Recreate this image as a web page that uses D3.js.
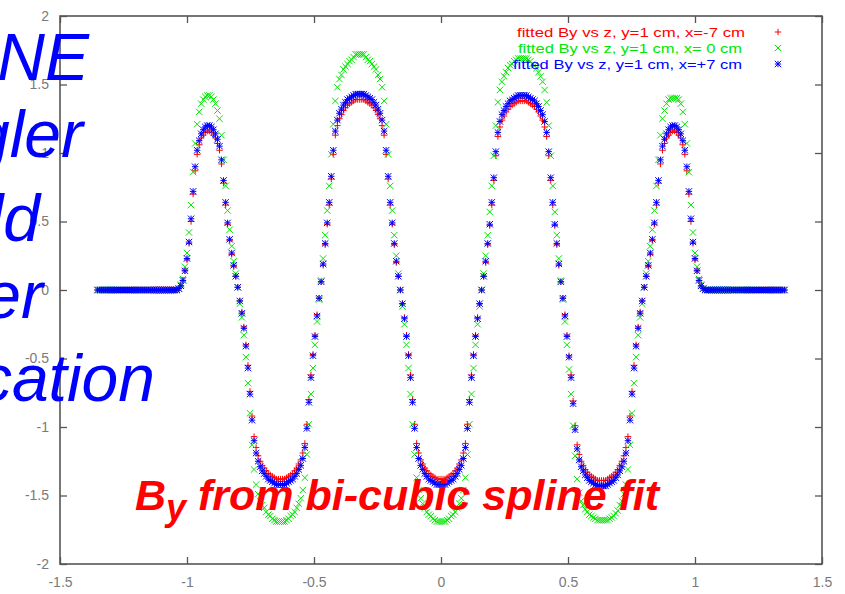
<!DOCTYPE html>
<html>
<head>
<meta charset="utf-8">
<script src="https://cdn.jsdelivr.net/npm/d3@7"></script>
<style>
  html, body { margin: 0; padding: 0; background: #fff; }
  svg { display: block; }
  text { font-family: "Liberation Sans", Arial, Helvetica, sans-serif; }
</style>
</head>
<body>
<svg id="chart" width="845" height="594"></svg>
<script>
// Longitudinal sample positions z (m)
const zPos = [
  -1.352,-1.344,-1.336,-1.328,-1.320,-1.312,-1.304,-1.296,-1.288,-1.280,
  -1.272,-1.264,-1.256,-1.248,-1.240,-1.232,-1.224,-1.216,-1.208,-1.200,
  -1.192,-1.184,-1.176,-1.168,-1.160,-1.152,-1.144,-1.136,-1.128,-1.120,
  -1.112,-1.104,-1.096,-1.088,-1.080,-1.072,-1.064,-1.056,-1.048,-1.040,
  -1.032,-1.024,-1.016,-1.008,-1.000,-0.992,-0.984,-0.976,-0.968,-0.960,
  -0.952,-0.944,-0.936,-0.928,-0.920,-0.912,-0.904,-0.896,-0.888,-0.880,
  -0.872,-0.864,-0.856,-0.848,-0.840,-0.832,-0.824,-0.816,-0.808,-0.800,
  -0.792,-0.784,-0.776,-0.768,-0.760,-0.752,-0.744,-0.736,-0.728,-0.720,
  -0.712,-0.704,-0.696,-0.688,-0.680,-0.672,-0.664,-0.656,-0.648,-0.640,
  -0.632,-0.624,-0.616,-0.608,-0.600,-0.592,-0.584,-0.576,-0.568,-0.560,
  -0.552,-0.544,-0.536,-0.528,-0.520,-0.512,-0.504,-0.496,-0.488,-0.480,
  -0.472,-0.464,-0.456,-0.448,-0.440,-0.432,-0.424,-0.416,-0.408,-0.400,
  -0.392,-0.384,-0.376,-0.368,-0.360,-0.352,-0.344,-0.336,-0.328,-0.320,
  -0.312,-0.304,-0.296,-0.288,-0.280,-0.272,-0.264,-0.256,-0.248,-0.240,
  -0.232,-0.224,-0.216,-0.208,-0.200,-0.192,-0.184,-0.176,-0.168,-0.160,
  -0.152,-0.144,-0.136,-0.128,-0.120,-0.112,-0.104,-0.096,-0.088,-0.080,
  -0.072,-0.064,-0.056,-0.048,-0.040,-0.032,-0.024,-0.016,-0.008,0.000,
  0.008,0.016,0.024,0.032,0.040,0.048,0.056,0.064,0.072,0.080,
  0.088,0.096,0.104,0.112,0.120,0.128,0.136,0.144,0.152,0.160,
  0.168,0.176,0.184,0.192,0.200,0.208,0.216,0.224,0.232,0.240,
  0.248,0.256,0.264,0.272,0.280,0.288,0.296,0.304,0.312,0.320,
  0.328,0.336,0.344,0.352,0.360,0.368,0.376,0.384,0.392,0.400,
  0.408,0.416,0.424,0.432,0.440,0.448,0.456,0.464,0.472,0.480,
  0.488,0.496,0.504,0.512,0.520,0.528,0.536,0.544,0.552,0.560,
  0.568,0.576,0.584,0.592,0.600,0.608,0.616,0.624,0.632,0.640,
  0.648,0.656,0.664,0.672,0.680,0.688,0.696,0.704,0.712,0.720,
  0.728,0.736,0.744,0.752,0.760,0.768,0.776,0.784,0.792,0.800,
  0.808,0.816,0.824,0.832,0.840,0.848,0.856,0.864,0.872,0.880,
  0.888,0.896,0.904,0.912,0.920,0.928,0.936,0.944,0.952,0.960,
  0.968,0.976,0.984,0.992,1.000,1.008,1.016,1.024,1.032,1.040,
  1.048,1.056,1.064,1.072,1.080,1.088,1.096,1.104,1.112,1.120,
  1.128,1.136,1.144,1.152,1.160,1.168,1.176,1.184,1.192,1.200,
  1.208,1.216,1.224,1.232,1.240,1.248,1.256,1.264,1.272,1.280,
  1.288,1.296,1.304,1.312,1.320,1.328,1.336,1.344,1.352
];

// Fitted By (T) at y = 1 cm, x = -7 cm
const byMinus7 = [
  0,0,0,0,0,0,0,0,0,0,
  0,0,0,0,0,0,0,0,0,0,
  0,0,0,0,0,0,0,0,0,0,
  0,0,0,0,0,0,0,0,0,0,
  0.01,0.03,0.07,0.14,0.22,0.34,0.50,0.70,0.87,0.99,
  1.06,1.11,1.13,1.15,1.16,1.16,1.15,1.13,1.11,1.07,
  1.02,0.92,0.78,0.62,0.48,0.36,0.26,0.17,0.10,0.02,
  -0.08,-0.16,-0.27,-0.40,-0.55,-0.74,-0.92,-1.07,-1.15,-1.21,
  -1.25,-1.28,-1.30,-1.32,-1.34,-1.35,-1.36,-1.37,-1.38,-1.38,
  -1.38,-1.38,-1.38,-1.37,-1.36,-1.35,-1.34,-1.32,-1.30,-1.27,
  -1.24,-1.19,-1.12,-0.98,-0.80,-0.62,-0.47,-0.33,-0.18,-0.06,
  0.06,0.18,0.33,0.48,0.62,0.81,0.99,1.13,1.20,1.25,
  1.28,1.31,1.33,1.35,1.36,1.37,1.38,1.39,1.39,1.39,
  1.39,1.39,1.38,1.37,1.36,1.35,1.33,1.31,1.28,1.25,
  1.20,1.13,0.99,0.81,0.62,0.48,0.33,0.20,0.10,0.00,
  -0.10,-0.20,-0.33,-0.47,-0.62,-0.80,-0.98,-1.12,-1.19,-1.24,
  -1.27,-1.30,-1.32,-1.34,-1.35,-1.36,-1.37,-1.38,-1.38,-1.38,
  -1.38,-1.38,-1.37,-1.36,-1.35,-1.34,-1.32,-1.30,-1.27,-1.24,
  -1.19,-1.12,-0.98,-0.80,-0.62,-0.47,-0.33,-0.20,-0.10,0.00,
  0.10,0.20,0.33,0.47,0.62,0.80,0.98,1.12,1.19,1.24,
  1.27,1.30,1.32,1.34,1.35,1.36,1.37,1.38,1.38,1.38,
  1.38,1.38,1.37,1.36,1.35,1.34,1.32,1.30,1.27,1.24,
  1.19,1.12,0.98,0.80,0.62,0.47,0.33,0.18,0.06,-0.06,
  -0.18,-0.33,-0.48,-0.62,-0.81,-0.99,-1.13,-1.20,-1.25,-1.28,
  -1.31,-1.33,-1.35,-1.36,-1.37,-1.38,-1.39,-1.39,-1.39,-1.39,
  -1.39,-1.38,-1.37,-1.36,-1.35,-1.33,-1.31,-1.28,-1.25,-1.21,
  -1.15,-1.07,-0.92,-0.74,-0.55,-0.40,-0.27,-0.16,-0.08,0.02,
  0.10,0.17,0.26,0.36,0.48,0.62,0.78,0.92,1.02,1.07,
  1.11,1.13,1.15,1.16,1.16,1.15,1.13,1.11,1.06,0.99,
  0.87,0.70,0.50,0.34,0.22,0.14,0.07,0.03,0.01,0,
  0,0,0,0,0,0,0,0,0,0,
  0,0,0,0,0,0,0,0,0,0,
  0,0,0,0,0,0,0,0,0,0,
  0,0,0,0,0,0,0,0,0
];

// Fitted By (T) at y = 1 cm, x = 0 cm
const byZero = [
  0,0,0,0,0,0,0,0,0,0,
  0,0,0,0,0,0,0,0,0,0,
  0,0,0,0,0,0,0,0,0,0,
  0,0,0,0,0,0,0,0,0,0,
  0.01,0.04,0.08,0.17,0.27,0.42,0.62,0.86,1.07,1.21,
  1.30,1.36,1.39,1.41,1.42,1.42,1.41,1.39,1.36,1.31,
  1.25,1.13,0.95,0.76,0.58,0.44,0.32,0.21,0.12,0.02,
  -0.10,-0.20,-0.33,-0.49,-0.68,-0.90,-1.13,-1.31,-1.42,-1.49,
  -1.54,-1.57,-1.59,-1.62,-1.64,-1.65,-1.67,-1.68,-1.69,-1.69,
  -1.69,-1.69,-1.69,-1.68,-1.67,-1.65,-1.64,-1.62,-1.59,-1.56,
  -1.52,-1.46,-1.37,-1.20,-0.98,-0.76,-0.57,-0.40,-0.23,-0.07,
  0.07,0.23,0.40,0.58,0.76,0.99,1.21,1.38,1.48,1.54,
  1.57,1.61,1.63,1.65,1.67,1.68,1.70,1.72,1.72,1.72,
  1.72,1.72,1.70,1.68,1.67,1.65,1.63,1.61,1.57,1.54,
  1.48,1.38,1.21,0.99,0.76,0.58,0.40,0.25,0.12,0.00,
  -0.12,-0.25,-0.40,-0.57,-0.76,-0.98,-1.20,-1.37,-1.46,-1.52,
  -1.56,-1.59,-1.62,-1.64,-1.65,-1.67,-1.68,-1.69,-1.69,-1.69,
  -1.69,-1.69,-1.68,-1.67,-1.65,-1.64,-1.62,-1.59,-1.56,-1.52,
  -1.46,-1.37,-1.20,-0.98,-0.76,-0.57,-0.40,-0.25,-0.12,0.00,
  0.12,0.25,0.40,0.57,0.76,0.98,1.20,1.37,1.46,1.52,
  1.56,1.59,1.62,1.64,1.65,1.67,1.68,1.69,1.69,1.69,
  1.69,1.69,1.68,1.67,1.65,1.64,1.62,1.59,1.56,1.52,
  1.46,1.37,1.20,0.98,0.76,0.57,0.40,0.23,0.07,-0.07,
  -0.23,-0.40,-0.58,-0.76,-0.99,-1.21,-1.38,-1.48,-1.54,-1.57,
  -1.60,-1.62,-1.64,-1.65,-1.66,-1.67,-1.68,-1.68,-1.68,-1.68,
  -1.68,-1.68,-1.67,-1.66,-1.65,-1.63,-1.61,-1.57,-1.54,-1.49,
  -1.42,-1.31,-1.13,-0.90,-0.68,-0.49,-0.33,-0.20,-0.10,0.02,
  0.12,0.21,0.32,0.44,0.58,0.76,0.95,1.13,1.25,1.31,
  1.36,1.39,1.40,1.40,1.40,1.40,1.39,1.36,1.30,1.21,
  1.07,0.86,0.62,0.42,0.27,0.17,0.08,0.04,0.01,0,
  0,0,0,0,0,0,0,0,0,0,
  0,0,0,0,0,0,0,0,0,0,
  0,0,0,0,0,0,0,0,0,0,
  0,0,0,0,0,0,0,0,0
];

// Fitted By (T) at y = 1 cm, x = +7 cm
const byPlus7 = [
  0,0,0,0,0,0,0,0,0,0,
  0,0,0,0,0,0,0,0,0,0,
  0,0,0,0,0,0,0,0,0,0,
  0,0,0,0,0,0,0,0,0,0,
  0.01,0.03,0.07,0.14,0.23,0.35,0.52,0.72,0.90,1.02,
  1.09,1.14,1.17,1.19,1.20,1.20,1.19,1.17,1.14,1.10,
  1.05,0.95,0.80,0.64,0.49,0.37,0.27,0.18,0.10,0.02,
  -0.08,-0.17,-0.28,-0.41,-0.57,-0.76,-0.95,-1.10,-1.19,-1.25,
  -1.29,-1.32,-1.34,-1.36,-1.38,-1.39,-1.40,-1.41,-1.42,-1.42,
  -1.42,-1.42,-1.42,-1.41,-1.40,-1.39,-1.38,-1.36,-1.34,-1.31,
  -1.28,-1.23,-1.15,-1.01,-0.82,-0.64,-0.48,-0.34,-0.19,-0.06,
  0.06,0.19,0.34,0.49,0.64,0.83,1.02,1.16,1.24,1.29,
  1.32,1.35,1.37,1.39,1.40,1.41,1.42,1.43,1.43,1.43,
  1.43,1.43,1.42,1.41,1.40,1.39,1.37,1.35,1.32,1.29,
  1.24,1.16,1.02,0.83,0.64,0.49,0.34,0.21,0.10,0.00,
  -0.10,-0.21,-0.34,-0.48,-0.64,-0.82,-1.01,-1.15,-1.23,-1.28,
  -1.31,-1.34,-1.36,-1.38,-1.39,-1.40,-1.41,-1.42,-1.42,-1.42,
  -1.42,-1.42,-1.41,-1.40,-1.39,-1.38,-1.36,-1.34,-1.31,-1.28,
  -1.23,-1.15,-1.01,-0.82,-0.64,-0.48,-0.34,-0.21,-0.10,0.00,
  0.10,0.21,0.34,0.48,0.64,0.82,1.01,1.15,1.23,1.28,
  1.31,1.34,1.36,1.38,1.39,1.40,1.41,1.42,1.42,1.42,
  1.42,1.42,1.41,1.40,1.39,1.38,1.36,1.34,1.31,1.28,
  1.23,1.15,1.01,0.82,0.64,0.48,0.34,0.19,0.06,-0.06,
  -0.19,-0.34,-0.49,-0.64,-0.83,-1.02,-1.16,-1.24,-1.29,-1.32,
  -1.35,-1.37,-1.39,-1.40,-1.41,-1.42,-1.43,-1.43,-1.43,-1.43,
  -1.43,-1.42,-1.41,-1.40,-1.39,-1.37,-1.35,-1.32,-1.29,-1.25,
  -1.19,-1.10,-0.95,-0.76,-0.57,-0.41,-0.28,-0.17,-0.08,0.02,
  0.10,0.18,0.27,0.37,0.49,0.64,0.80,0.95,1.05,1.10,
  1.14,1.17,1.19,1.20,1.20,1.19,1.17,1.14,1.09,1.02,
  0.90,0.72,0.52,0.35,0.23,0.14,0.07,0.03,0.01,0,
  0,0,0,0,0,0,0,0,0,0,
  0,0,0,0,0,0,0,0,0,0,
  0,0,0,0,0,0,0,0,0,0,
  0,0,0,0,0,0,0,0,0
];

const seriesLabels = [
  "fitted By vs z, y=1 cm, x=-7 cm",
  "fitted By vs z, y=1 cm, x= 0 cm",
  "fitted By vs z, y=1 cm, x=+7 cm"
];
const xTicks = [-1.5, -1, -0.5, 0, 0.5, 1, 1.5];
const yTicks = [-2, -1.5, -1, -0.5, 0, 0.5, 1, 1.5, 2];
const headingFragments = ["NE", "gler", "ld", "er", "cation"];
const captionMain = "B";
const captionSub = "y";
const captionRest = " from bi-cubic spline fit";

// ---------------------------------------------------------------
const svg = d3.select("#chart");
const W = 845, H = 594;
const plot = { left: 60, right: 822, top: 16, bottom: 564 };

svg.append("rect").attr("width", W).attr("height", H).attr("fill", "#fff");

const x = d3.scaleLinear().domain([-1.5, 1.5]).range([plot.left, plot.right]);
const y = d3.scaleLinear().domain([-2, 2]).range([plot.bottom, plot.top]);

const axisColor = "#555";
const labelColor = "#7a7a7a";
const fmt = d => String(d);

function styleAxis(g) {
  g.select(".domain").remove();
  g.selectAll(".tick line").attr("stroke", axisColor).attr("stroke-width", 1.3);
  g.selectAll(".tick text")
    .attr("fill", labelColor)
    .style("font-size", "14px")
    .style("font-family", "'Liberation Sans', Arial, sans-serif");
}

// gnuplot-style inward ticks on all four sides
svg.append("g")
  .attr("transform", `translate(0,${plot.bottom})`)
  .call(d3.axisBottom(x).tickValues(xTicks).tickFormat(fmt).tickSize(-7).tickSizeOuter(0).tickPadding(13))
  .call(styleAxis);
svg.append("g")
  .attr("transform", `translate(0,${plot.top})`)
  .call(d3.axisTop(x).tickValues(xTicks).tickFormat("").tickSize(-7).tickSizeOuter(0))
  .call(styleAxis);
svg.append("g")
  .attr("transform", `translate(${plot.left},0)`)
  .call(d3.axisLeft(y).tickValues(yTicks).tickFormat(fmt).tickSize(-7).tickSizeOuter(0).tickPadding(11))
  .call(styleAxis);
svg.append("g")
  .attr("transform", `translate(${plot.right},0)`)
  .call(d3.axisRight(y).tickValues(yTicks).tickFormat("").tickSize(-7).tickSizeOuter(0))
  .call(styleAxis);

svg.append("rect")
  .attr("x", plot.left).attr("y", plot.top)
  .attr("width", plot.right - plot.left).attr("height", plot.bottom - plot.top)
  .attr("fill", "none").attr("stroke", axisColor).attr("stroke-width", 1.6);

// point glyphs: + , x , *
const s = 3.2;
const glyphPlus = `M${-s},0H${s}M0,${-s}V${s}`;
const glyphCross = `M${-s},${-s}L${s},${s}M${-s},${s}L${s},${-s}`;
const glyphStar = glyphPlus + glyphCross;

const series = [
  { values: byMinus7, color: "#ff0000", glyph: glyphPlus },
  { values: byZero,   color: "#00e600", glyph: glyphCross },
  { values: byPlus7,  color: "#0000ff", glyph: glyphStar }
];

series.forEach(sr => {
  svg.append("g")
    .selectAll("path")
    .data(d3.zip(zPos, sr.values))
    .join("path")
    .attr("transform", d => `translate(${x(d[0])},${y(d[1])})`)
    .attr("d", sr.glyph)
    .attr("fill", "none")
    .attr("stroke", sr.color)
    .attr("stroke-width", 1);
});

// key, top right
const key = svg.append("g");
const keyRows = [
  { start: 517, len: 228, base: 37 },
  { start: 518, len: 224, base: 53 },
  { start: 513, len: 229, base: 69 }
];
series.forEach((sr, i) => {
  const r = keyRows[i];
  key.append("text")
    .attr("x", r.start).attr("y", r.base)
    .attr("textLength", r.len).attr("lengthAdjust", "spacingAndGlyphs")
    .style("white-space", "pre")
    .style("font-size", "13.5px")
    .attr("fill", sr.color)
    .text(seriesLabels[i]);
  key.append("path")
    .attr("transform", `translate(778,${r.base - 5})`)
    .attr("d", sr.glyph)
    .attr("fill", "none").attr("stroke", sr.color).attr("stroke-width", 1);
});

// caption over the plot
const cap = svg.append("text")
  .attr("x", 135).attr("y", 510)
  .attr("fill", "#ff0000")
  .style("font-weight", "bold").style("font-style", "italic")
  .style("font-size", "43px")
  .style("white-space", "pre");
cap.append("tspan").text(captionMain);
cap.append("tspan").attr("dy", 10).style("font-size", "36px").text(captionSub);
cap.append("tspan").attr("dy", -10).text(captionRest);

// large heading fragments along the left edge
const headingPos = [
  { end: 89, base: 80 },
  { end: 83, base: 157 },
  { end: 40, base: 241 },
  { end: 43, base: 318 },
  { end: 155, base: 401 }
];
headingFragments.forEach((t, i) => {
  svg.append("text")
    .attr("x", headingPos[i].end).attr("y", headingPos[i].base)
    .attr("text-anchor", "end")
    .attr("fill", "#0000ff")
    .style("font-style", "italic")
    .style("font-size", "66px")
    .text(t);
});
</script>
</body>
</html>
